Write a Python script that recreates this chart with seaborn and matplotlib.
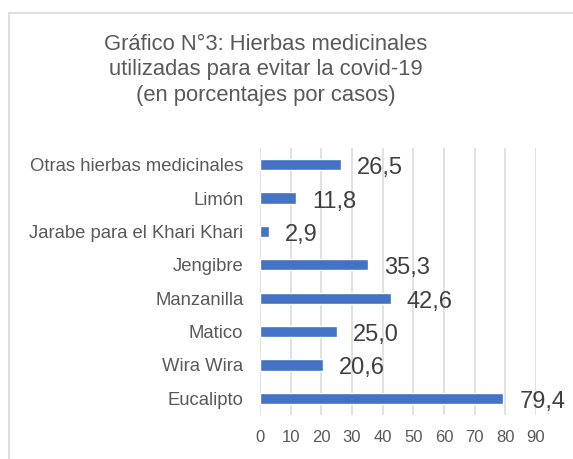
import matplotlib
matplotlib.use("Agg")
import matplotlib.pyplot as plt
from matplotlib.patches import Rectangle
import seaborn as sns
import pandas as pd

hierbas = ["Otras hierbas medicinales", "Limón", "Jarabe para el Khari Khari",
           "Jengibre", "Manzanilla", "Matico", "Wira Wira", "Eucalipto"]
porcentajes = [26.5, 11.8, 2.9, 35.3, 42.6, 25.0, 20.6, 79.4]
ticks_x = [0, 10, 20, 30, 40, 50, 60, 70, 80, 90]

sns.set_theme(style="white")
plt.rcParams["font.family"] = ["Liberation Sans", "DejaVu Sans"]

df = pd.DataFrame({"hierba": hierbas, "pct": porcentajes})

W, H = 573, 459
fig = plt.figure(figsize=(W / 100, H / 100), dpi=100)
ax = fig.add_axes([260 / W, 1 - 415 / H, (536 - 260) / W, (415 - 148) / H])

# outer chart frame
fig.patches.append(Rectangle((8.5 / W, -0.2), 1.5, 1.2 - 13.5 / H,
                             transform=fig.transFigure, fill=False,
                             edgecolor="#d9d9d9", linewidth=1.2))

sns.barplot(data=df, x="pct", y="hierba", orient="h", color="#4472C4",
            width=0.34, saturation=1, ax=ax, zorder=3)

ax.set_xlim(0, 90)
ax.set_ylim(7.5, -0.5)
ax.set_xticks(ticks_x)
ax.set_xticklabels([str(t) for t in ticks_x], color="#595959", fontsize=12)
ax.tick_params(axis="y", labelsize=13.3, labelcolor="#595959", length=0, pad=12)
ax.tick_params(axis="x", length=0, pad=11)
ax.set_xlabel("")
ax.set_ylabel("")
ax.grid(axis="x", color="#d9d9d9", linewidth=1.1, zorder=0)
for s in ax.spines.values():
    s.set_visible(False)

for i, v in enumerate(porcentajes):
    ax.annotate(f"{v:.1f}".replace(".", ","), xy=(v, i), xytext=(11.5, -2.5),
                textcoords="offset points", ha="left", va="center",
                fontsize=17, color="#404040")

fig.text(266 / W, 1 - 70 / H,
         "Gráfico N°3: Hierbas medicinales\nutilizadas para evitar la covid-19\n(en porcentajes por casos)",
         ha="center", va="center", fontsize=15.8, color="#595959", linespacing=1.3)

fig.savefig("out.png", dpi=100)
